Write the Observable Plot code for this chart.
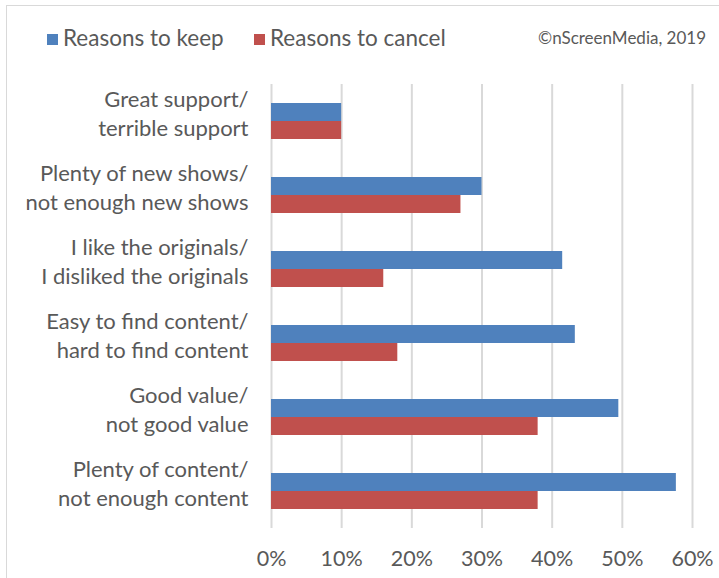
<!DOCTYPE html>
<html>
<head>
<meta charset="utf-8">
<script src="https://cdn.jsdelivr.net/npm/d3@7"></script>
<script src="https://cdn.jsdelivr.net/npm/@observablehq/plot@0.6"></script>
<style>
  html, body { margin: 0; padding: 0; background: #fff; }
  #wrap { position: relative; width: 719px; height: 578px; overflow: hidden; font-family: Lato, "Open Sans", sans-serif; color: #595959; }
  #frame { position: absolute; left: 6px; top: 5px; width: 730px; height: 620px; border: 1.5px solid #d9d9d9; box-sizing: border-box; }
  #chart { position: absolute; left: 0; top: 0; }
  .leg { position: absolute; top: 25px; font-size: 22.5px; line-height: 26px; white-space: nowrap; }
  .sw { display: inline-block; width: 11px; height: 11px; margin-right: 5px; vertical-align: 1px; }
  #copy { position: absolute; top: 28px; left: 538px; font-size: 17px; line-height: 20px; white-space: nowrap; }
</style>
</head>
<body>
<div id="wrap">
  <div id="frame"></div>
  <div id="chart"></div>
  <div id="legend"></div>
  <div id="copy"></div>
</div>
<script>
const categories = [
  "Great support/\nterrible support",
  "Plenty of new shows/\nnot enough new shows",
  "I like the originals/\nI disliked the originals",
  "Easy to find content/\nhard to find content",
  "Good value/\nnot good value",
  "Plenty of content/\nnot enough content"
];
const seriesNames = ["Reasons to keep", "Reasons to cancel"];
const keepValues = [10, 30, 41.5, 43.3, 49.5, 57.7];
const cancelValues = [10, 27, 16, 18, 38, 38];
const seriesColors = ["#4f81bd", "#c0504d"];
const xTicks = [0, 10, 20, 30, 40, 50, 60];
const credit = "©nScreenMedia, 2019";

const data = [];
categories.forEach((c, i) => {
  data.push({category: c, series: seriesNames[0], value: keepValues[i]});
  data.push({category: c, series: seriesNames[1], value: cancelValues[i]});
});

const chart = Plot.plot({
  width: 719,
  height: 578,
  marginLeft: 271,
  marginRight: 27,
  marginTop: 83,
  marginBottom: 50,
  style: {fontFamily: "Lato, 'Open Sans', sans-serif", color: "#595959", background: "transparent"},
  x: {domain: [0, 60]},
  fy: {domain: categories, padding: 0},
  y: {domain: seriesNames, paddingInner: 0, paddingOuter: 1.055, axis: null},
  color: {domain: seriesNames, range: seriesColors},
  marks: [
    Plot.gridX(xTicks, {stroke: "#d9d9d9", strokeOpacity: 1, strokeWidth: 2}),
    Plot.barX(data, {fy: "category", y: "series", x: "value", fill: "series"}),
    Plot.axisX(xTicks, {tickFormat: d => d + "%", tickSize: 0, tickPadding: 22, fontSize: 21.5, label: null}),
    Plot.axisFy({anchor: "left", tickSize: 0, tickPadding: 23, fontSize: 22, lineHeight: 1.32, dy: -9, label: null})
  ]
});
document.getElementById("chart").appendChild(chart);

const legend = document.getElementById("legend");
const legendLefts = [47, 254];
seriesNames.forEach((s, i) => {
  const d = document.createElement("div");
  d.className = "leg";
  d.style.left = legendLefts[i] + "px";
  const sw = document.createElement("span");
  sw.className = "sw";
  sw.style.background = seriesColors[i];
  d.appendChild(sw);
  d.appendChild(document.createTextNode(s));
  legend.appendChild(d);
});
document.getElementById("copy").textContent = credit;
</script>
</body>
</html>
